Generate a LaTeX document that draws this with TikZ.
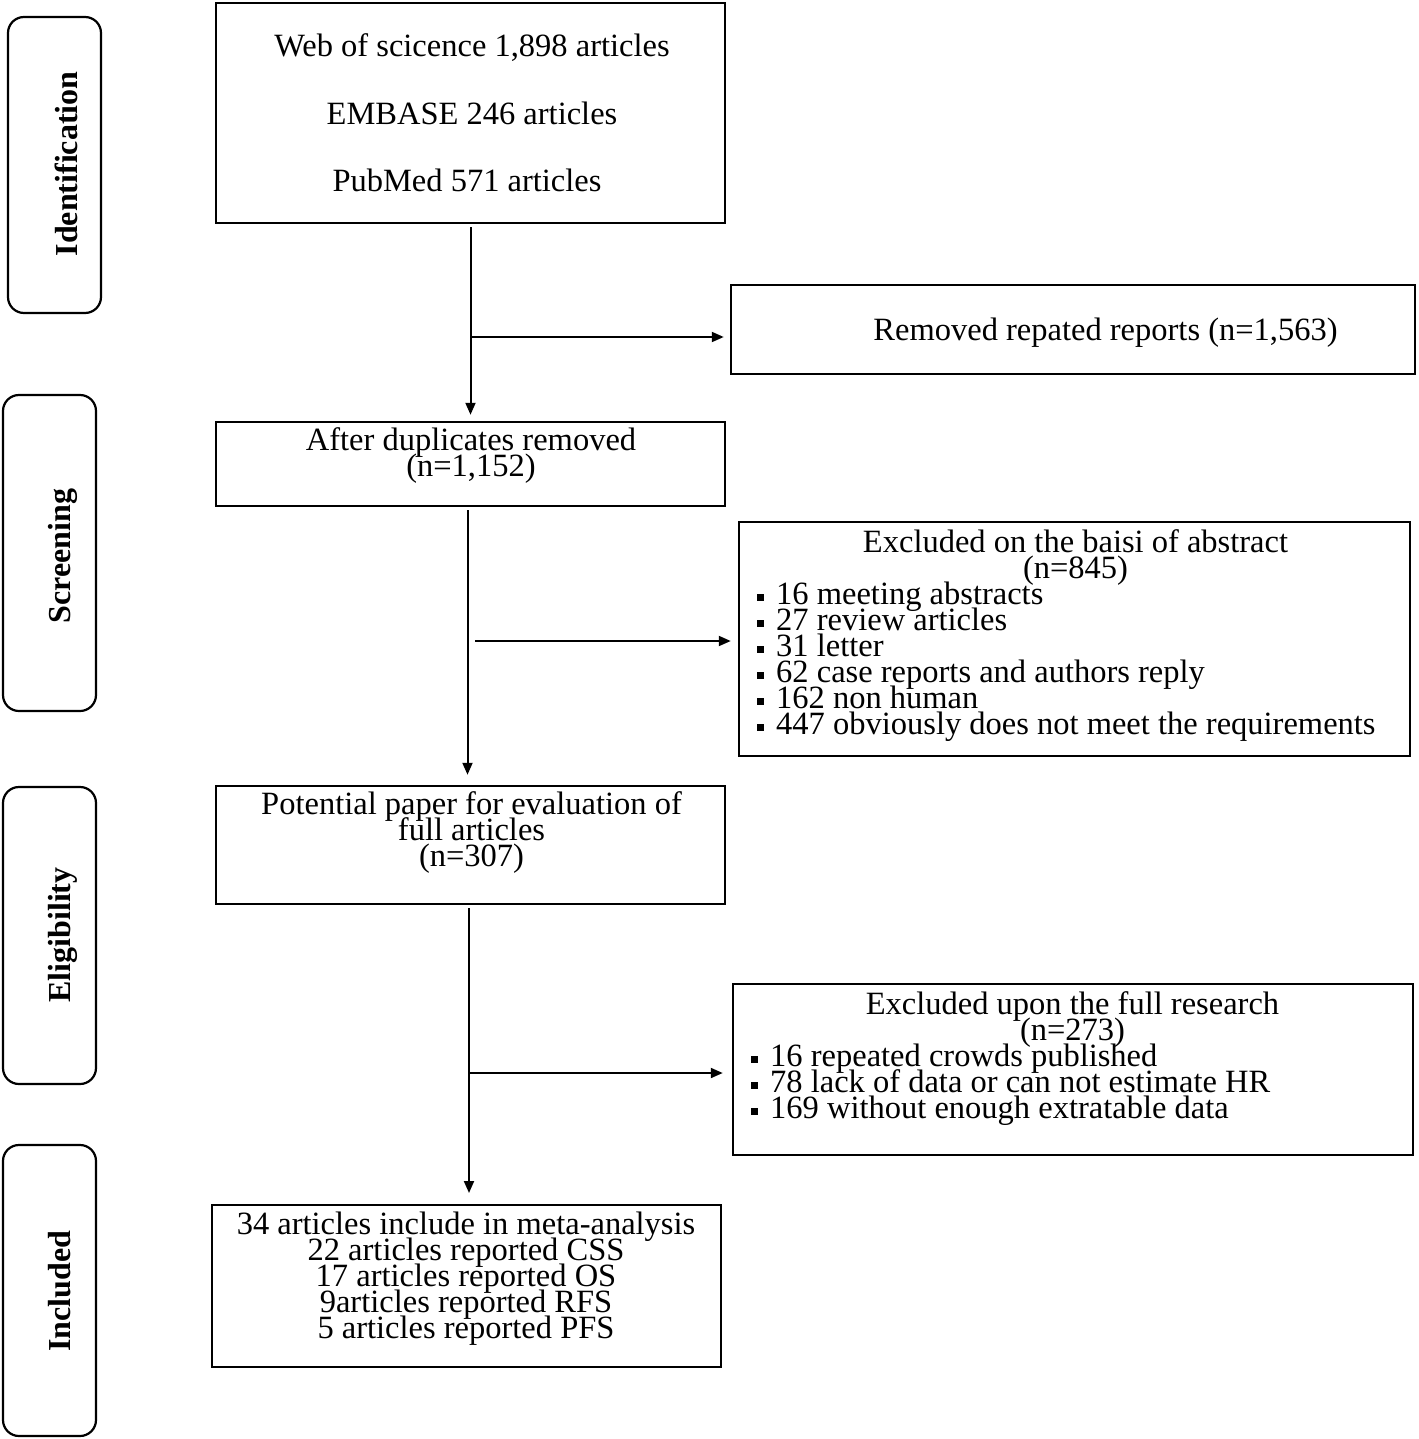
\documentclass[tikz,border=0pt]{standalone}
\usepackage{fontspec}
\setmainfont{Liberation Serif}
\usetikzlibrary{arrows.meta}
\newcommand\sqb{\rule[3pt]{7pt}{7pt}\hspace{12pt}}
\begin{document}
\begin{tikzpicture}[x=1pt,y=-1pt,
  box/.style={draw, line width=2.5pt, inner sep=0pt, rectangle},
  side/.style={draw, line width=2.2pt, rounded corners=16pt, inner sep=0pt, rectangle},
  txt/.style={inner sep=0pt, font=\fontsize{32.5}{26}\selectfont},
  stxt/.style={inner sep=0pt, rotate=90, anchor=base, font=\fontsize{32}{36}\selectfont\bfseries},
  arr/.style={line width=2pt, -{Triangle[length=12pt,width=10pt]}}]
\useasboundingbox (0,0) rectangle (1418,1439);

% side labels
\node[side, minimum width=93pt, minimum height=296pt] (sid) at (54.5,165) {};
\node[stxt] (tid) at (77,164) {Identification};
\node[side, minimum width=93pt, minimum height=316pt] (ssc) at (49.5,553) {};
\node[stxt] (tsc) at (70,556) {Screening};
\node[side, minimum width=93pt, minimum height=297pt] (sel) at (49.5,935.5) {};
\node[stxt] (tel) at (70,935) {Eligibility};
\node[side, minimum width=93pt, minimum height=291pt] (sin) at (49.5,1290.5) {};
\node[stxt] (tin) at (70,1291) {Included};

% boxes
\node[box, minimum width=509pt, minimum height=220pt] (src) at (470.5,113) {};
\node[txt, anchor=base] (s1) at (472,57) {Web of scicence 1,898 articles};
\node[txt, anchor=base] (s2) at (472,125) {EMBASE 246 articles};
\node[txt, anchor=base] (s3) at (467,192) {PubMed 571 articles};

\node[box, minimum width=684pt, minimum height=89pt] (rem) at (1073,329.5) {};
\node[txt, anchor=base] (r1) at (1105.5,340) {Removed repated reports (n=1,563)};

\node[box, minimum width=509pt, minimum height=84pt] (aft) at (470.5,464) {};
\node[txt, anchor=base] (a1) at (471,450) {After duplicates removed};
\node[txt, anchor=base] (a2) at (471,476) {(n=1,152)};

\node[box, minimum width=671pt, minimum height=234pt] (ex1) at (1074.5,639) {};
\node[txt, anchor=base] (e1) at (1075.5,552) {Excluded on the baisi of abstract};
\node[txt, anchor=base] (e2) at (1075.5,578) {(n=845)};
\node[txt, anchor=base west] (e3) at (757,604) {\sqb 16 meeting abstracts};
\node[txt, anchor=base west] (e4) at (757,630) {\sqb 27 review articles};
\node[txt, anchor=base west] (e5) at (757,656) {\sqb 31 letter};
\node[txt, anchor=base west] (e6) at (757,682) {\sqb 62 case reports and authors reply};
\node[txt, anchor=base west] (e7) at (757,708) {\sqb 162 non human};
\node[txt, anchor=base west] (e8) at (757,734) {\sqb 447 obviously does not meet the requirements};

\node[box, minimum width=509pt, minimum height=118pt] (pot) at (470.5,845) {};
\node[txt, anchor=base] (p1) at (471.5,814) {Potential paper for evaluation of};
\node[txt, anchor=base] (p2) at (471.5,840) {full articles};
\node[txt, anchor=base] (p3) at (471.5,866) {(n=307)};

\node[box, minimum width=680pt, minimum height=171pt] (ex2) at (1073,1069.5) {};
\node[txt, anchor=base] (f1) at (1072.5,1014) {Excluded upon the full research};
\node[txt, anchor=base] (f2) at (1072.5,1040) {(n=273)};
\node[txt, anchor=base west] (f3) at (751,1066) {\sqb 16 repeated crowds published};
\node[txt, anchor=base west] (f4) at (751,1092) {\sqb 78 lack of data or can not estimate HR};
\node[txt, anchor=base west] (f5) at (751,1118) {\sqb 169 without enough extratable data};

\node[box, minimum width=509pt, minimum height=162pt] (inc) at (466.5,1286) {};
\node[txt, anchor=base] (i1) at (466,1234) {34 articles include in meta-analysis};
\node[txt, anchor=base] (i2) at (466,1260) {22 articles reported CSS};
\node[txt, anchor=base] (i3) at (466,1286) {17 articles reported OS};
\node[txt, anchor=base] (i4) at (466,1312) {9articles reported RFS};
\node[txt, anchor=base] (i5) at (466,1338) {5 articles reported PFS};

% connectors
\draw[arr, shorten <=3pt, shorten >=6pt] (src.south) -- (aft.north);
\coordinate (b1) at (470.5,337);
\draw[arr, shorten >=6pt] (b1) -- (rem.west |- b1);

\draw[arr, shorten <=3pt, shorten >=10pt] ([xshift=-3pt]aft.south) -- ([xshift=-3pt]pot.north);
\coordinate (b2) at (475,641);
\draw[arr, shorten >=7pt] (b2) -- (ex1.west |- b2);

\coordinate (c3) at (469,1205);
\draw[arr, shorten <=3pt, shorten >=12pt] ([xshift=-1.5pt]pot.south) -- (c3);
\coordinate (b3) at (469,1073);
\draw[arr, shorten >=9pt] (b3) -- (ex2.west |- b3);
\end{tikzpicture}
\end{document}
